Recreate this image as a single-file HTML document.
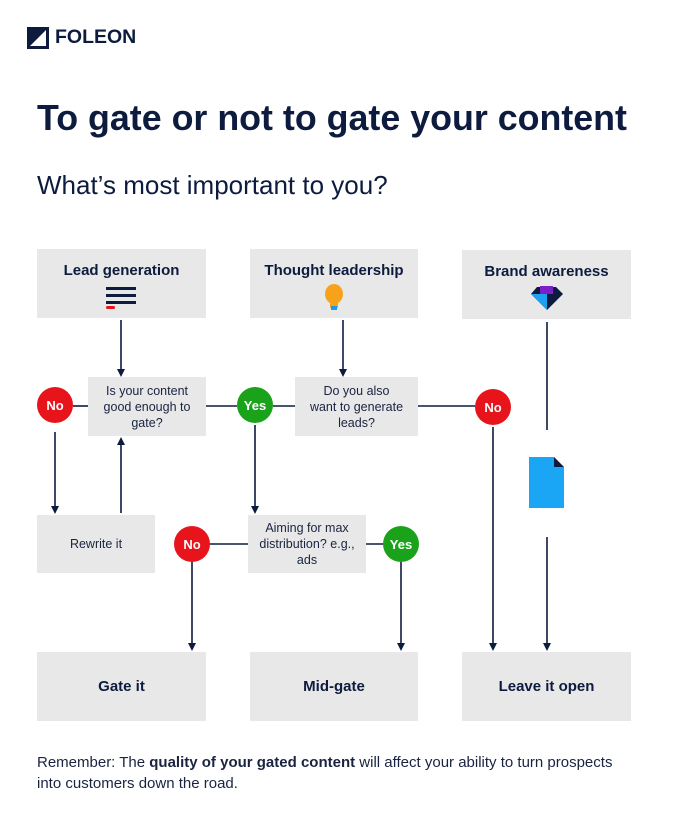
<!DOCTYPE html>
<html><head><style>
body{margin:0;width:688px;height:827px;background:#fff;font-family:"Liberation Sans",sans-serif;color:#0d1b3e;position:relative;overflow:hidden}
.a{position:absolute}
.box{position:absolute;background:#e8e8e8;display:flex;align-items:center;justify-content:center;text-align:center;box-sizing:border-box}
.h{font-weight:bold;font-size:15px}
.q{font-size:12.5px;line-height:16px;color:#1a2440;padding:0 8px}
.c{position:absolute;width:36px;height:36px;border-radius:50%;color:#fff;font-weight:bold;font-size:13px;display:flex;align-items:center;justify-content:center}
.no{background:#e8141c}.yes{background:#1aa31a}
</style></head><body>
<div class="a" style="left:27px;top:27px;width:22px;height:22px;background:#0d1b3e"></div>
<svg class="a" style="left:27px;top:27px" width="22" height="22"><polygon points="3,19 19,3 19,19" fill="#fff"/></svg>
<div class="a" style="left:55px;top:26px;font-weight:bold;font-size:19.5px">FOLEON</div>
<div class="a" style="left:37px;top:98px;font-weight:bold;font-size:35.8px">To gate or not to gate your content</div>
<div class="a" style="left:37px;top:170px;font-size:26px">What’s most important to you?</div>

<div class="box h" style="left:37px;top:249px;width:169px;height:69px;align-items:flex-start;padding-top:13px">Lead generation</div>
<div class="box h" style="left:250px;top:249px;width:168px;height:69px;align-items:flex-start;padding-top:13px">Thought leadership</div>
<div class="box h" style="left:462px;top:250px;width:169px;height:69px;align-items:flex-start;padding-top:13px">Brand awareness</div>
<div class="box q" style="left:88px;top:377px;width:118px;height:59px">Is your content good enough to gate?</div>
<div class="box q" style="left:295px;top:377px;width:123px;height:59px;padding:0 14px">Do you also want to generate leads?</div>
<div class="box q" style="left:37px;top:515px;width:118px;height:58px">Rewrite it</div>
<div class="box q" style="left:248px;top:515px;width:118px;height:58px">Aiming for max distribution? e.g., ads</div>
<div class="box h" style="left:37px;top:652px;width:169px;height:69px">Gate it</div>
<div class="box h" style="left:250px;top:652px;width:168px;height:69px">Mid-gate</div>
<div class="box h" style="left:462px;top:652px;width:169px;height:69px">Leave it open</div>

<svg class="a" style="left:0;top:0" width="688" height="827">
<g stroke="#0d1b3e" stroke-width="1.6" fill="none">
<line x1="121" y1="320" x2="121" y2="370"/>
<line x1="343" y1="320" x2="343" y2="370"/>
<line x1="547" y1="322" x2="547" y2="430"/>
<line x1="547" y1="537" x2="547" y2="644"/>
<line x1="55" y1="432" x2="55" y2="507"/>
<line x1="121" y1="513" x2="121" y2="444"/>
<line x1="255" y1="425" x2="255" y2="507"/>
<line x1="192" y1="562" x2="192" y2="644"/>
<line x1="401" y1="562" x2="401" y2="644"/>
<line x1="493" y1="427" x2="493" y2="644"/>
<line x1="73" y1="406" x2="88" y2="406"/>
<line x1="206" y1="406" x2="237" y2="406"/>
<line x1="273" y1="406" x2="295" y2="406"/>
<line x1="418" y1="406" x2="475" y2="406"/>
<line x1="210" y1="544" x2="248" y2="544"/>
<line x1="366" y1="544" x2="383" y2="544"/>
</g>
<g fill="#0d1b3e">
<polygon points="117,369 125,369 121,377"/>
<polygon points="339,369 347,369 343,377"/>
<polygon points="543,643 551,643 547,651"/>
<polygon points="51,506 59,506 55,514"/>
<polygon points="117,445 125,445 121,437"/>
<polygon points="251,506 259,506 255,514"/>
<polygon points="188,643 196,643 192,651"/>
<polygon points="397,643 405,643 401,651"/>
<polygon points="489,643 497,643 493,651"/>
</g>
<g fill="#0d1b3e"><rect x="106" y="287" width="30" height="3"/><rect x="106" y="294" width="30" height="3"/><rect x="106" y="301" width="30" height="3"/></g>
<rect x="106" y="306" width="9" height="3" rx="1.5" fill="#e8141c"/>
<ellipse cx="334" cy="294" rx="9" ry="10" fill="#f7a21b"/><rect x="330" y="302" width="8" height="6" fill="#f7a21b"/><rect x="331" y="306" width="6" height="4" fill="#1e9be8"/>
<polygon points="537,287 556,287 563,294 547,310 531,294" fill="#0d1b3e"/>
<polygon points="531,294 547,294 547,310" fill="#1ea0f0"/>
<rect x="540" y="286" width="13" height="8" fill="#7a1fc9"/>
<polygon points="529,457 554,457 564,467 564,508 529,508" fill="#1aa5f5"/>
<polygon points="554,457 564,467 554,467" fill="#0d1b3e"/>
</svg>
<div class="c no" style="left:37px;top:387px">No</div>
<div class="c yes" style="left:237px;top:387px">Yes</div>
<div class="c no" style="left:475px;top:389px">No</div>
<div class="c no" style="left:174px;top:526px">No</div>
<div class="c yes" style="left:383px;top:526px">Yes</div>
<div class="a" style="left:37px;top:752px;width:590px;font-size:15px;line-height:21px;color:#1a2440">Remember: The <b>quality of your gated content</b> will affect your ability to turn prospects into customers down the road.</div>
</body></html>
